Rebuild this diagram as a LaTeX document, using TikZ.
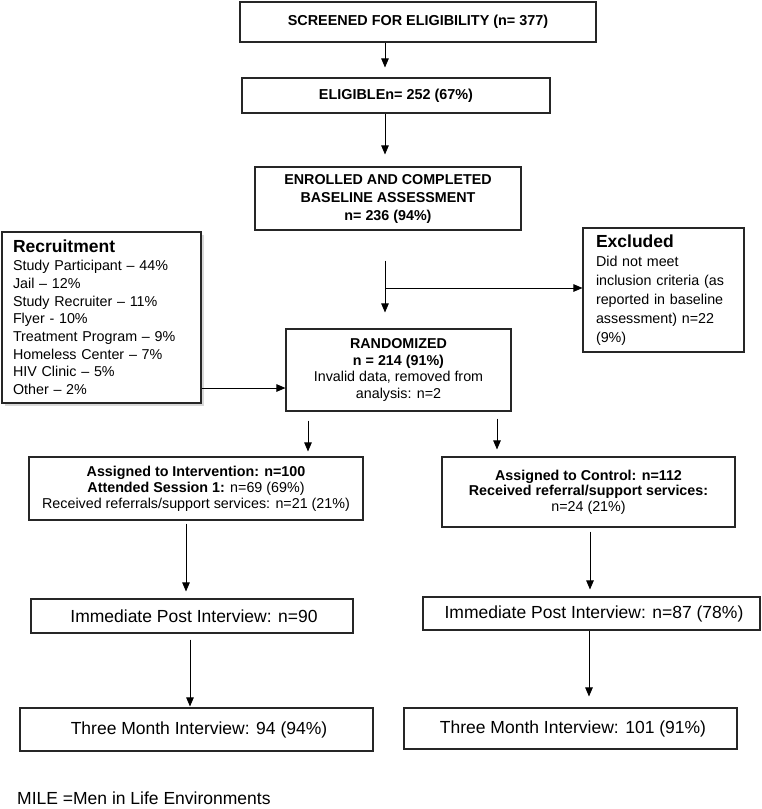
\documentclass[tikz,border=0pt]{standalone}
\usepackage{fontspec}
\setmainfont{Liberation Sans}
\usetikzlibrary{arrows.meta,shadows}
\newcommand\myfs[2]{\fontsize{#1}{#2}\selectfont}
\begin{document}
\begin{tikzpicture}[x=1pt,y=-1pt,
  box/.style={draw=black!85,line width=1.1pt,inner sep=0pt,align=center},
  arr/.style={line width=0.9pt,-{Triangle[length=9pt,width=7.5pt]}},
  ln/.style={line width=0.9pt}]
\useasboundingbox (0,0) rectangle (762,809);
% boxes
\node[box,font=\myfs{14.4}{17},minimum width=356pt,minimum height=40pt] (screen) at (418,22) {\textbf{SCREENED FOR ELIGIBILITY (n= 377)}};
\node[box,font=\myfs{14.4}{17},minimum width=308pt,minimum height=35pt] (elig) at (396,95.5) {\textbf{ELIGIBLEn= 252 (67\%)}};
\node[box,font=\myfs{14.3}{18}\bfseries,minimum width=266pt,minimum height=63pt] (enrol) at (388,198.5) {ENROLLED AND COMPLETED\\BASELINE ASSESSMENT\\n= 236 (94\%)};
\node[box,align=left,font=\myfs{14.3}{19},text width=135pt,inner xsep=13pt,minimum height=124pt] (excl) at (663.5,290) {{\myfs{17.5}{20}\textbf{Excluded}}\\Did not meet\\inclusion criteria (as\\reported in baseline\\assessment) n=22\\(9\%)};
\node[box,align=left,font=\myfs{14.3}{17.7},text width=177pt,inner xsep=11pt,minimum height=171pt,fill=white,drop shadow={shadow xshift=3pt,shadow yshift=-3pt,fill=black!30}] (rec) at (101.5,317.5) {{\myfs{17.5}{19}\textbf{Recruitment}}\\Study Participant \textendash{} 44\%\\Jail \textendash{} 12\%\\Study Recruiter \textendash{} 11\%\\Flyer - 10\%\\Treatment Program \textendash{} 9\%\\Homeless Center \textendash{} 7\%\\HIV Clinic \textendash{} 5\%\\Other \textendash{} 2\%};
\node[box,font=\myfs{14.3}{16.7},minimum width=225pt,minimum height=82pt] (rand) at (398.5,370) {\textbf{RANDOMIZED}\\\textbf{n = 214 (91\%)}\\Invalid data, removed from\\analysis: n=2};
\node[box,font=\myfs{14.3}{16},minimum width=334pt,minimum height=63pt] (int) at (196,488.5) {\textbf{Assigned to Intervention: n=100}\\\textbf{Attended Session 1:} n=69 (69\%)\\Received referrals/support services: n=21 (21\%)};
\node[box,font=\myfs{14.3}{15.7},minimum width=293pt,minimum height=70pt] (ctrl) at (588.5,492) {\textbf{Assigned to Control: n=112}\\\textbf{Received referral/support services:}\\n=24 (21\%)};
\node[box,font=\myfs{17.5}{20},minimum width=322pt,minimum height=34pt] (post1) at (192,616) {\hspace*{4pt}Immediate Post Interview: n=90};
\node[box,font=\myfs{17.5}{20},minimum width=337pt,minimum height=33pt] (post2) at (591.5,613.5) {\hspace*{5pt}Immediate Post Interview: n=87 (78\%)};
\node[box,font=\myfs{17.5}{20},minimum width=353pt,minimum height=43pt] (three1) at (196.5,729.5) {\hspace*{5pt}Three Month Interview: 94 (94\%)};
\node[box,font=\myfs{17.5}{20},minimum width=333pt,minimum height=41pt] (three2) at (570.5,728.5) {\hspace*{5pt}Three Month Interview: 101 (91\%)};
\node[anchor=base west,inner sep=0pt,font=\myfs{17.5}{20}] (mile) at (17,804) {MILE =Men in Life Environments};
% connector guide coordinates
\coordinate (xa) at (385,0);
\coordinate (xb) at (308,0);
\coordinate (xc) at (497,0);
\coordinate (xd) at (186,0);
\coordinate (xe) at (190,0);
\coordinate (xf) at (590,0);
\coordinate (xg) at (589,0);
\coordinate (br) at (385,288);
\coordinate (yr) at (0,388);
% connectors
\draw[arr,shorten >=10pt] (screen.south -| xa) -- (elig.north -| xa);
\draw[arr,shorten >=12pt] (elig.south -| xa) -- (enrol.north -| xa);
\draw[arr,shorten <=30pt,shorten >=16pt] (enrol.south -| xa) -- (rand.north -| xa);
\draw[arr] (br) -- (br -| excl.west);
\draw[arr] (rec.east |- yr) -- (rand.west |- yr);
\draw[arr,shorten <=9pt,shorten >=5pt] (rand.south -| xb) -- (int.north -| xb);
\draw[arr,shorten <=7pt,shorten >=7pt] (rand.south -| xc) -- (ctrl.north -| xc);
\draw[arr,shorten <=3pt,shorten >=7pt] (int.south -| xd) -- (post1.north -| xd);
\draw[arr,shorten <=6pt,shorten >=1pt] (post1.south -| xe) -- (three1.north -| xe);
\draw[arr,shorten <=4pt,shorten >=7pt] (ctrl.south -| xf) -- (post2.north -| xf);
\draw[arr,shorten >=11pt] (post2.south -| xg) -- (three2.north -| xg);
\end{tikzpicture}
\end{document}
